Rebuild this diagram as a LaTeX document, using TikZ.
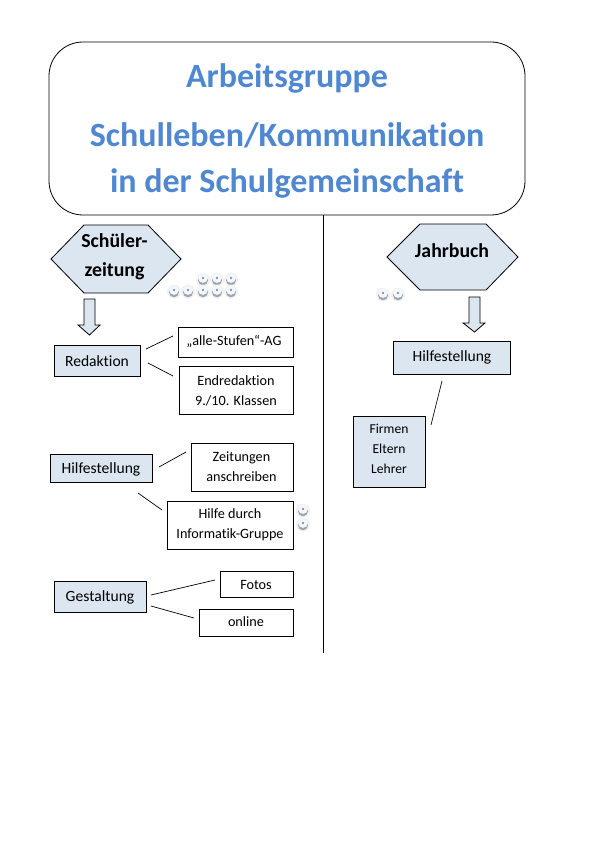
\documentclass[tikz,border=0pt]{standalone}
\usepackage{fontspec}
\setmainfont{Carlito}[Ligatures=CommonOff]
\definecolor{boxfill}{HTML}{DCE6F1}
\definecolor{titleblue}{HTML}{4F88D0}
\definecolor{beadgrey}{HTML}{9EA4B0}
\definecolor{beadmid}{HTML}{6B7A96}
\tikzset{
  x=1pt,y=-1pt,
  lbl/.style={font=\fontsize{14.2}{20}\selectfont,align=center,inner sep=0pt,yshift=-0.8pt},
  biglbl/.style={font=\fontsize{15.6}{20}\selectfont,align=center,inner sep=0pt,yshift=-1pt},
  head/.style={font=\fontsize{19.8}{29}\selectfont\bfseries,align=center,inner sep=0pt},
  ttl/.style={font=\fontsize{34}{36}\selectfont\bfseries,text=titleblue,inner sep=0pt},
  plainbox/.style={draw=black,fill=white,line width=0.8pt},
  bluebox/.style={draw=black,fill=boxfill,line width=0.8pt},
  conn/.style={draw=black,line width=0.7pt},
  bead/.pic={
    \fill[black!5] (0,0.6) circle (7);
    \fill[beadgrey] (0,1.3) circle (5);
    \fill[boxfill!35!white] (0,-0.9) circle (4.8);
    \fill[beadmid] (0,-1) circle (1.2);
  }
}
\begin{document}
\begin{tikzpicture}
\useasboundingbox (0,0) rectangle (595,842);
\fill[white] (0,0) rectangle (595,842);
% title
\draw[line width=0.8pt,rounded corners=34pt] (49,42) rectangle (525,215);
\node[ttl] (t1) at (287,78.5) {Arbeitsgruppe};
\node[ttl] (t2) at (287,135) {Schulleben/Kommunikation};
\node[ttl] (t3) at (287,183.5) {in der Schulgemeinschaft};
\coordinate (vtop) at (323.5,215);
\coordinate (vbot) at (323.5,653);
\draw[conn] (vtop) -- (vbot);
% hexagons
\draw[bluebox] (51,259) -- (84,225) -- (148,225) -- (181,259) -- (148,293) -- (84,293) -- cycle;
\node[head] (sz) at (114.5,257) {Schüler-\\zeitung};
\draw[bluebox] (387,257) -- (420,224) -- (486,224) -- (518,257) -- (486,290) -- (420,290) -- cycle;
\node[head] (jb) at (452,251) {Jahrbuch};
% arrows
\draw[bluebox] (84,299) -- (95,299) -- (95,325) -- (100,325) -- (89.5,335) -- (78,325) -- (84,325) -- cycle;
\draw[bluebox] (469,297) -- (480,297) -- (480,323) -- (485,323) -- (474.5,332) -- (463,323) -- (469,323) -- cycle;
% left boxes
\draw[bluebox] (54,345) rectangle (140,376);
\node[biglbl] (red) at (97,360) {Redaktion};
\draw[plainbox] (178,327) rectangle (293,357);
\node[lbl] (alle) at (234,341) {„alle-Stufen“-AG};
\draw[plainbox] (179,366) rectangle (293,414);
\node[lbl] (end) at (236,390) {Endredaktion\\9./10. Klassen};
\draw[bluebox] (50,454) rectangle (152,482);
\node[biglbl] (hil) at (101,468) {Hilfestellung};
\draw[plainbox] (191,443) rectangle (293,491);
\node[lbl] (zei) at (241.5,466) {Zeitungen\\anschreiben};
\draw[plainbox] (167,501) rectangle (293,549);
\node[lbl] (inf) at (230,523.5) {Hilfe durch\\Informatik-Gruppe};
\draw[bluebox] (54,581) rectangle (146,612);
\node[biglbl] (ges) at (100,596) {Gestaltung};
\draw[plainbox] (220,571) rectangle (293,597);
\node[lbl] (fot) at (256,584) {Fotos};
\draw[plainbox] (199,609) rectangle (293,636);
\node[lbl] (onl) at (246,621) {online};
% right boxes
\draw[bluebox] (393,341) rectangle (510,374);
\node[biglbl] (hil2) at (452,356) {Hilfestellung};
\draw[bluebox] (353,416) rectangle (425,487);
\node[lbl,font=\fontsize{13.6}{20}\selectfont] (fir) at (389,448.5) {Firmen\\Eltern\\Lehrer};
% connectors
\coordinate (a1) at (146,349); \coordinate (a2) at (173,336);
\coordinate (b1) at (148,363); \coordinate (b2) at (173,376);
\coordinate (c1) at (159,467); \coordinate (c2) at (186,452);
\coordinate (d1) at (138,493); \coordinate (d2) at (162,510);
\coordinate (e1) at (151,595); \coordinate (e2) at (215,580);
\coordinate (f1) at (151,606); \coordinate (f2) at (194,618);
\coordinate (g1) at (442,381); \coordinate (g2) at (431,425);
\draw[conn] (a1) -- (a2);
\draw[conn] (b1) -- (b2);
\draw[conn] (c1) -- (c2);
\draw[conn] (d1) -- (d2);
\draw[conn] (e1) -- (e2);
\draw[conn] (f1) -- (f2);
\draw[conn] (g1) -- (g2);
% beads
\foreach \px/\py in {203/279,217/279,231/279,174/291,188/291,203/291,217/291,231/291,383/294,398/294,303/510,303/524}
  \pic at (\px,\py) {bead};
\end{tikzpicture}
\end{document}
